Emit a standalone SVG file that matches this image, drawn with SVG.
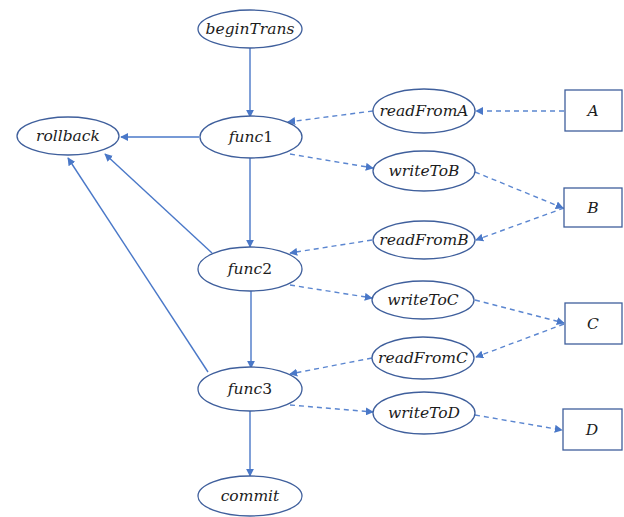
<svg xmlns="http://www.w3.org/2000/svg" width="624" height="517" viewBox="0 0 624 517">
<style>
.n ellipse,.n rect{fill:#fff;stroke:#3f5f9c;stroke-width:1.3}
.n text{font-family:"DejaVu Serif","Liberation Serif",serif;font-style:italic;font-size:15.5px;fill:#1c1c1c;text-anchor:middle;dominant-baseline:central}
.n text tspan.d{font-style:normal}
.e line{stroke:#4a78c8;stroke-width:1.4;fill:none}
.e .s{marker-end:url(#a)}
.e .dsh{stroke:#5b86d0;stroke-dasharray:5 4;marker-end:url(#a)}
</style>
<defs>
<marker id="a" viewBox="0 0 10 10" refX="9" refY="5" markerWidth="8" markerHeight="8" markerUnits="userSpaceOnUse" orient="auto">
<path d="M0,0L10,5L0,10z" fill="#4a78c8"/>
</marker>
</defs>
<g class="e" id="connectors">
<line class="s" x1="250" y1="48" x2="250" y2="117"/>
<line class="s" x1="199" y1="137" x2="121" y2="137"/>
<line class="s" x1="250" y1="158" x2="250" y2="247"/>
<line class="s" x1="212" y1="253" x2="105" y2="154"/>
<line class="s" x1="208" y1="372" x2="68" y2="158"/>
<line class="s" x1="251" y1="291" x2="251" y2="368"/>
<line class="s" x1="250" y1="411" x2="250" y2="476"/>
<line class="dsh" x1="564" y1="111" x2="476" y2="111"/>
<line class="dsh" x1="373" y1="111" x2="288" y2="122"/>
<line class="dsh" x1="290" y1="154" x2="373" y2="168"/>
<line class="dsh" x1="475" y1="172" x2="563" y2="208"/>
<line class="dsh" x1="564" y1="208" x2="476" y2="240"/>
<line class="dsh" x1="372" y1="240" x2="290" y2="253"/>
<line class="dsh" x1="290" y1="285" x2="372" y2="298"/>
<line class="dsh" x1="475" y1="300" x2="564" y2="323"/>
<line class="dsh" x1="564" y1="324" x2="476" y2="357"/>
<line class="dsh" x1="372" y1="358" x2="290" y2="374"/>
<line class="dsh" x1="290" y1="405" x2="373" y2="412"/>
<line class="dsh" x1="475" y1="415" x2="562" y2="430"/>
</g>
<g class="n" id="beginTrans"><ellipse cx="250" cy="29" rx="52" ry="19"/><text x="250" y="29">beginTrans</text></g>
<g class="n" id="rollback"><ellipse cx="68" cy="136" rx="51" ry="19"/><text x="68" y="136">rollback</text></g>
<g class="n" id="func1"><ellipse cx="251" cy="137" rx="51" ry="21"/><text x="251" y="137">func<tspan class="d">1</tspan></text></g>
<g class="n" id="func2"><ellipse cx="250" cy="269" rx="52" ry="22"/><text x="250" y="269">func<tspan class="d">2</tspan></text></g>
<g class="n" id="func3"><ellipse cx="250" cy="389" rx="52" ry="22"/><text x="250" y="389">func<tspan class="d">3</tspan></text></g>
<g class="n" id="commit"><ellipse cx="250" cy="496" rx="52" ry="20"/><text x="250" y="496">commit</text></g>
<g class="n" id="readFromA"><ellipse cx="424" cy="111" rx="51" ry="22"/><text x="424" y="111">readFromA</text></g>
<g class="n" id="writeToB"><ellipse cx="424" cy="171" rx="51" ry="20"/><text x="424" y="171">writeToB</text></g>
<g class="n" id="readFromB"><ellipse cx="424" cy="240" rx="51" ry="19"/><text x="424" y="240">readFromB</text></g>
<g class="n" id="writeToC"><ellipse cx="423" cy="300" rx="51" ry="19"/><text x="423" y="300">writeToC</text></g>
<g class="n" id="readFromC"><ellipse cx="423" cy="358" rx="51" ry="21"/><text x="423" y="358">readFromC</text></g>
<g class="n" id="writeToD"><ellipse cx="424" cy="413" rx="51" ry="21"/><text x="424" y="413">writeToD</text></g>
<g class="n" id="A"><rect x="565" y="90" width="57" height="41"/><text x="593" y="111">A</text></g>
<g class="n" id="B"><rect x="564" y="188" width="58" height="39"/><text x="593" y="208">B</text></g>
<g class="n" id="C"><rect x="565" y="303" width="57" height="41"/><text x="593" y="324">C</text></g>
<g class="n" id="D"><rect x="563" y="409" width="59" height="41"/><text x="592" y="430">D</text></g>
</svg>
